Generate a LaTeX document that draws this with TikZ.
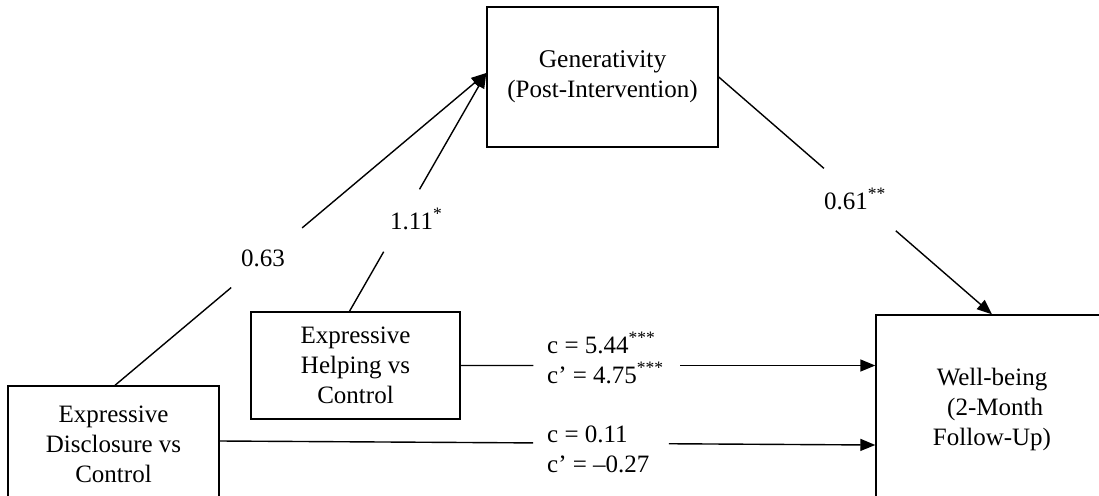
\documentclass[tikz,border=0pt]{standalone}
\usepackage{fontspec}
\setmainfont{Liberation Serif}
\usetikzlibrary{arrows.meta,calc}
\begin{document}
\begin{tikzpicture}[x=1pt,y=-1pt,
  every node/.style={font=\fontsize{25}{30}\selectfont, inner sep=0pt},
  box/.style={draw=black, line width=1.4pt, align=center},
  conn/.style={line width=1.4pt},
  arr/.style={conn, -{Triangle[length=15pt,width=12pt]}},
  lbl/.style={anchor=base west}
]
\clip (0,0) rectangle (1099,495);
\fill[white] (0,0) rectangle (1099,495);

\node[box, minimum width=231pt, minimum height=140pt] (gen) at (602.5,77)
  {\fontsize{25.5}{28}\selectfont Generativity\\(Post-Intervention)};
\node[box, minimum width=209pt, minimum height=107pt] (help) at (355.5,365.5)
  {\fontsize{25}{29.5}\selectfont Expressive\\Helping vs\\Control};
\node[box, minimum width=211pt, minimum height=116pt] (disc) at (113.5,444)
  {\fontsize{25}{30.5}\selectfont Expressive\\Disclosure vs\\Control};
\node[box, minimum width=232pt, minimum height=188pt] (wb) at (992,409)
  {\fontsize{25}{32}\selectfont Well-being\\\strut\ (2-Month\\Follow-Up)};

% label texts
\node[anchor=base] (l063) at (263,266) {0.63};
\node[lbl] (l111) at (390,229) {1.11\textsuperscript{*}};
\node[lbl] (l061) at (824,209) {0.61\textsuperscript{**}};
\node[lbl] (lc1) at (547,353) {c = 5.44\textsuperscript{***}};
\node[lbl] (lc1p) at (547,383) {c’ = 4.75\textsuperscript{***}};
\node[lbl] (lc2) at (547,442) {c = 0.11};
\node[lbl] (lc2p) at (547,472) {c’ = –0.27};

% connector end points
\coordinate (tipG) at ([yshift=4pt]gen.west);
\coordinate (sD) at ([xshift=1.5pt]disc.north);
\coordinate (sH) at ([xshift=-6pt]help.north);
\coordinate (sHe) at (help.east);
\coordinate (tHe) at (help.east -| wb.west);
\coordinate (sDe) at ([yshift=3pt]disc.east);
\coordinate (tDe) at ([yshift=-36pt]wb.west);

% disclosure -> generativity (0.63)
\draw[conn] (sD) -- ($(sD)!0.313!(tipG)$);
\draw[arr] ($(sD)!0.504!(tipG)$) -- (tipG);
% helping -> generativity (1.11*)
\draw[conn] (sH) -- ($(sH)!0.25!(tipG)$);
\draw[arr] ($(sH)!0.512!(tipG)$) -- (tipG);
% generativity -> well-being (0.61**)
\draw[conn] (gen.east) -- ($(gen.east)!0.385!(wb.north)$);
\draw[arr] ($(gen.east)!0.648!(wb.north)$) -- (wb.north);
% helping -> well-being
\draw[conn] (sHe) -- ($(sHe)!0.175!(tHe)$);
\draw[arr] ($(sHe)!0.53!(tHe)$) -- (tHe);
% disclosure -> well-being
\draw[conn] (sDe) -- ($(sDe)!0.478!(tDe)$);
\draw[arr] ($(sDe)!0.685!(tDe)$) -- (tDe);
\end{tikzpicture}
\end{document}
